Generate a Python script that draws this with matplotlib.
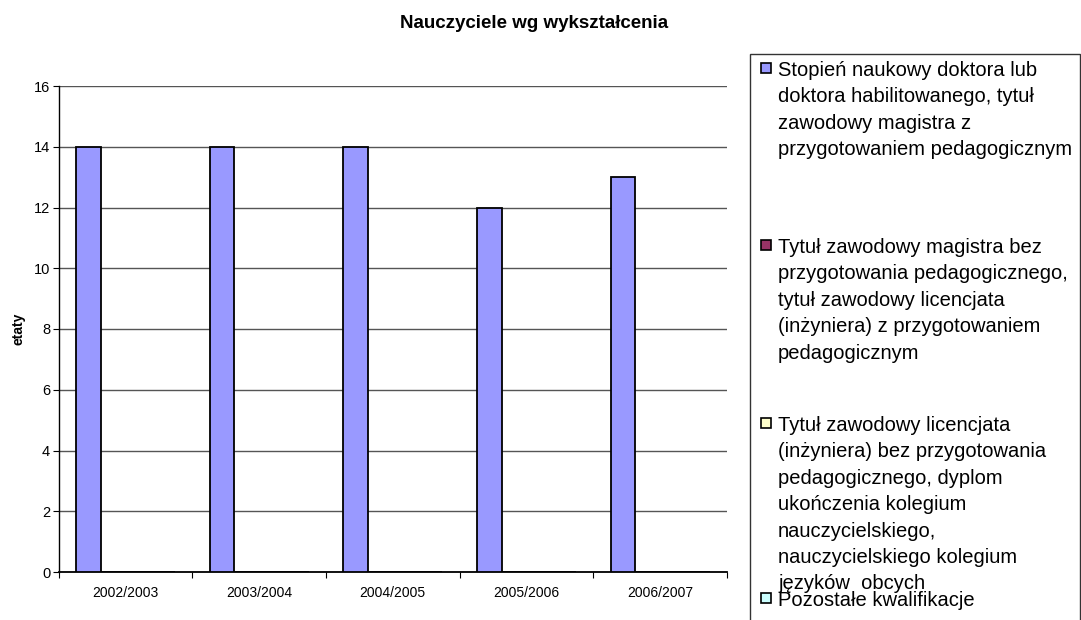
import matplotlib
matplotlib.use('Agg')
import matplotlib.pyplot as plt
import numpy as np
from matplotlib.patches import Rectangle

plt.rcParams['font.family'] = ['Liberation Sans', 'DejaVu Sans']

# data
years = ['2002/2003', '2003/2004', '2004/2005', '2005/2006', '2006/2007']
series_names = [
    'Stopień naukowy doktora lub\ndoktora habilitowanego, tytuł\nzawodowy magistra z\nprzygotowaniem pedagogicznym',
    'Tytuł zawodowy magistra bez\nprzygotowania pedagogicznego,\ntytuł zawodowy licencjata\n(inżyniera) z przygotowaniem\npedagogicznym',
    'Tytuł zawodowy licencjata\n(inżyniera) bez przygotowania\npedagogicznego, dyplom\nukończenia kolegium\nnauczycielskiego,\nnauczycielskiego kolegium\njęzyków  obcych',
    'Pozostałe kwalifikacje',
]
doktor_magister_ped = [14, 14, 14, 12, 13]
magister_bez_ped = [0, 0, 0, 0, 0]
licencjat_bez_ped = [0, 0, 0, 0, 0]
pozostale = [0, 0, 0, 0, 0]
series_values = [doktor_magister_ped, magister_bez_ped, licencjat_bez_ped, pozostale]
colors = ['#9999FF', '#993366', '#FFFFCC', '#CCFFFF']

W, H = 1081, 620
fig = plt.figure(figsize=(W / 100, H / 100), dpi=100)
ax = fig.add_axes([58.5 / W, (H - 572) / H, (727 - 58.5) / W, (572 - 86) / H])

x = np.arange(len(years))
bw = 0.185
for i, vals in enumerate(series_values):
    ax.bar(x + (i - 1.5) * bw, vals, width=bw, color=colors[i],
           edgecolor='black', linewidth=1.3, zorder=3)

ax.set_xlim(-0.5, len(years) - 0.5)
ax.set_ylim(0, 16)
ax.set_yticks(np.arange(0, 17, 2))
ax.yaxis.grid(True, color='#555555', linewidth=1.0, zorder=0)
ax.set_axisbelow(True)

# category boundaries as tick marks, labels in the middle
ax.set_xticks(np.arange(-0.5, len(years), 1.0))
ax.set_xticklabels([])
ax.set_xticks(x, minor=True)
ax.set_xticklabels(years, minor=True, fontsize=10)
ax.tick_params(axis='x', which='minor', length=0, pad=10)
ax.tick_params(axis='x', which='major', length=4, direction='out')
ax.tick_params(axis='y', length=4, direction='out', labelsize=10.5, pad=2)

for s in ['top', 'right']:
    ax.spines[s].set_visible(False)
ax.spines['left'].set_linewidth(1.0)
ax.spines['bottom'].set_linewidth(1.3)

ax.set_ylabel('etaty', fontsize=10, fontweight='bold')
ax.yaxis.set_label_coords((26 - 58.5) / (727 - 58.5), 0.5)

fig.text(534 / W, 1 - 23 / H, 'Nauczyciele wg wykształcenia', ha='center', va='center',
         fontsize=13.5, fontweight='bold')

# legend, drawn by hand (box runs off the bottom of the image)
fig.add_artist(Rectangle((750 / W, -0.05), (1080 - 750) / W, 0.05 + (H - 54) / H,
                         transform=fig.transFigure, facecolor='white',
                         edgecolor='#333333', linewidth=1.0, zorder=1))
entry_y = [68, 245, 423, 598]
line_h = 26.4
for name, col, ey in zip(series_names, colors, entry_y):
    fig.add_artist(Rectangle((761 / W, 1 - (ey + 5) / H), 10 / W, 10 / H,
                             transform=fig.transFigure, facecolor=col,
                             edgecolor='black', linewidth=1.2, zorder=2))
    for k, line in enumerate(name.split('\n')):
        fig.text(778 / W, 1 - (ey + 8 + k * line_h) / H, line, ha='left',
                 va='baseline', fontsize=14.5, zorder=3)

fig.savefig('out.png', dpi=100)
